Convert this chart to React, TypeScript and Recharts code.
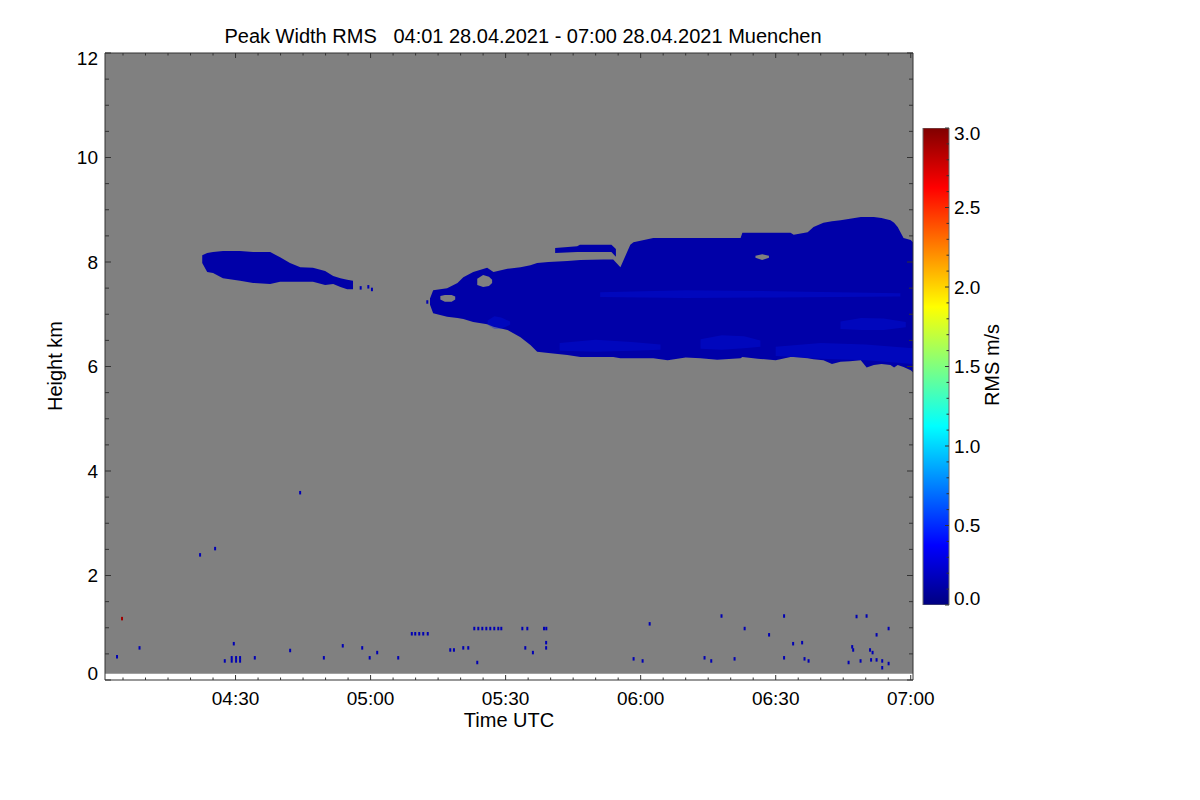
import React from 'react';
import { ComposedChart, Area, Scatter, Bar, XAxis, YAxis } from 'recharts';

const FONT = '"Liberation Sans", Arial, Helvetica, sans-serif';
const AXIS_COLOR = '#333333';
const PLOT_BG = '#808080';
const CLOUD_BLUE = '#0000a8';
const STREAK_BLUE = '#0018f0';

// time in minutes after 04:00 UTC, height in km
const X_DOMAIN = [1, 180.5];
const Y_DOMAIN = [0, 12];
const X_TICKS = [5, 10, 15, 20, 25, 30, 35, 40, 45, 50, 55, 60, 65, 70, 75, 80, 85, 90, 95, 100, 105, 110, 115, 120, 125, 130, 135, 140, 145, 150, 155, 160, 165, 170, 175, 180];
const X_MAJOR = [30, 60, 90, 120, 150, 180];
const X_LABELS = ['04:30', '05:00', '05:30', '06:00', '06:30', '07:00'];
const Y_TICKS = [0, 0.5, 1, 1.5, 2, 2.5, 3, 3.5, 4, 4.5, 5, 5.5, 6, 6.5, 7, 7.5, 8, 8.5, 9, 9.5, 10, 10.5, 11, 11.5, 12];
const Y_MAJOR = [0, 2, 4, 6, 8, 10, 12];
const Y_LABELS = ['0', '2', '4', '6', '8', '10', '12'];

// plot background (valid range gates)
const BG_T = [1, 180.5];
const BG_LOW = [0.12, 0.12];
const BG_HIGH = [12, 12];

// small cloud around 04:25 - 04:57
const CLOUD1_T = [22.6, 23.7, 25.0, 27.2, 31.0, 33.9, 37.7, 39.9, 42.1, 44.4, 47.2, 49.9, 51.7, 53.3, 54.8, 56.1];
const CLOUD1_LOW = [7.98, 7.81, 7.79, 7.69, 7.64, 7.60, 7.58, 7.62, 7.62, 7.62, 7.62, 7.56, 7.58, 7.52, 7.48, 7.48];
const CLOUD1_HIGH = [8.13, 8.17, 8.19, 8.21, 8.21, 8.19, 8.19, 8.09, 7.98, 7.90, 7.89, 7.83, 7.73, 7.69, 7.66, 7.64];

// main cloud 05:13 - 07:00
const MAIN_T = [73.2, 73.9, 77.0, 79.3, 80.6, 82.8, 85.9, 87.3, 90.4, 93.3, 95.5, 97.0, 99.5, 103.7, 106.6, 111.7, 113.9, 115.5, 117.7, 118.4, 122.8, 126.0, 130.0, 133.3, 137.0, 142.2, 142.6, 146.0, 150.0, 153.3, 154.0, 157.1, 158.4, 160.6, 162.5, 164.4, 166.5, 168.9, 170.2, 171.8, 173.5, 175.5, 176.3, 177.1, 178.4, 180.0, 180.5];
const MAIN_LOW = [7.18, 7.02, 6.95, 6.93, 6.91, 6.85, 6.81, 6.76, 6.70, 6.56, 6.41, 6.28, 6.26, 6.22, 6.18, 6.18, 6.18, 6.16, 6.16, 6.16, 6.16, 6.12, 6.17, 6.16, 6.13, 6.16, 6.18, 6.15, 6.12, 6.18, 6.18, 6.16, 6.14, 6.12, 6.05, 6.09, 6.10, 6.12, 5.98, 6.03, 6.05, 6.03, 5.98, 6.03, 5.99, 5.93, 5.89];
const MAIN_HIGH = [7.30, 7.46, 7.50, 7.60, 7.71, 7.81, 7.89, 7.81, 7.87, 7.90, 7.94, 7.98, 8.00, 8.02, 8.04, 8.05, 8.05, 7.90, 8.33, 8.38, 8.46, 8.46, 8.46, 8.46, 8.46, 8.46, 8.56, 8.56, 8.56, 8.56, 8.52, 8.57, 8.67, 8.75, 8.78, 8.80, 8.83, 8.86, 8.86, 8.86, 8.84, 8.80, 8.75, 8.67, 8.46, 8.42, 8.38];

// detached thin layer on top near 05:41 - 05:54
const STRIP_T = [101.0, 105.9, 106.5, 113.5, 114.5];
const STRIP_LOW = [8.17, 8.19, 8.19, 8.19, 8.10];
const STRIP_HIGH = [8.27, 8.30, 8.33, 8.33, 8.25];

// gaps inside the main cloud
const HOLE1_T = [75.5, 76.5, 78.0, 78.8];
const HOLE1_LOW = [7.28, 7.24, 7.24, 7.28];
const HOLE1_HIGH = [7.35, 7.37, 7.37, 7.34];
const HOLE2_T = [83.7, 85.0, 86.3, 87.0];
const HOLE2_LOW = [7.56, 7.52, 7.54, 7.60];
const HOLE2_HIGH = [7.68, 7.75, 7.72, 7.66];
const HOLE3_T = [145.5, 147.0, 148.5];
const HOLE3_LOW = [8.08, 8.04, 8.08];
const HOLE3_HIGH = [8.12, 8.15, 8.12];

// slightly higher RMS bands
const STREAK_A_T = [86.0, 87.5, 89.0, 91.0];
const STREAK_A_LOW = [6.80, 6.72, 6.72, 6.80];
const STREAK_A_HIGH = [6.88, 6.96, 6.94, 6.86];
const STREAK_B_T = [102.0, 110.0, 118.0, 124.4];
const STREAK_B_LOW = [6.30, 6.28, 6.30, 6.32];
const STREAK_B_HIGH = [6.45, 6.51, 6.47, 6.42];
const STREAK_C_T = [133.3, 138.0, 143.0, 146.6];
const STREAK_C_LOW = [6.34, 6.32, 6.35, 6.38];
const STREAK_C_HIGH = [6.52, 6.60, 6.58, 6.50];
const STREAK_D_T = [164.4, 169.0, 174.0, 178.9];
const STREAK_D_LOW = [6.72, 6.70, 6.70, 6.75];
const STREAK_D_HIGH = [6.86, 6.93, 6.92, 6.85];
const STREAK_E_T = [111.0, 130.0, 150.0, 177.7];
const STREAK_E_LOW = [7.33, 7.31, 7.32, 7.34];
const STREAK_E_HIGH = [7.42, 7.46, 7.44, 7.40];
const STREAK_F_T = [150.0, 160.0, 170.0, 180.5];
const STREAK_F_LOW = [6.20, 6.15, 6.12, 6.05];
const STREAK_F_HIGH = [6.38, 6.45, 6.42, 6.35];

// isolated pixels (ground clutter and cloud fragments)
const CLUTTER_T = [3.67, 8.67, 22.12, 25.46, 44.35, 29.61, 29.15, 30.12, 31.01, 29.15, 30.12, 31.01, 27.61, 34.28, 42.13, 49.62, 53.82, 58.14, 59.80, 61.47, 66.14, 69.16, 69.92, 70.81, 71.70, 72.70, 77.70, 78.52, 80.59, 81.70, 83.70, 83.04, 83.93, 84.82, 85.71, 86.59, 87.48, 88.37, 89.04, 93.71, 94.82, 98.53, 99.04, 94.37, 96.06, 99.0, 99.0, 118.43, 120.43, 122.0, 134.19, 135.68, 137.96, 140.86, 143.10, 148.53, 151.86, 151.86, 153.87, 155.87, 156.40, 157.30, 166.19, 166.99, 167.21, 167.96, 170.19, 168.85, 170.96, 171.52, 171.19, 172.41, 172.41, 173.66, 173.66, 175.08, 175.08, 57.8, 59.5, 60.3, 72.6];
const CLUTTER_H = [0.44, 0.61, 2.39, 2.51, 3.58, 0.69, 0.42, 0.42, 0.42, 0.36, 0.36, 0.36, 0.36, 0.42, 0.56, 0.42, 0.65, 0.61, 0.42, 0.52, 0.42, 0.88, 0.88, 0.88, 0.88, 0.88, 0.57, 0.57, 0.61, 0.61, 0.33, 0.98, 0.98, 0.98, 0.98, 0.98, 0.98, 0.98, 0.98, 0.98, 0.98, 0.98, 0.98, 0.61, 0.52, 0.71, 0.61, 0.40, 0.36, 1.07, 0.42, 0.36, 1.22, 0.40, 0.98, 0.86, 1.22, 0.42, 0.69, 0.71, 0.40, 0.36, 0.33, 0.63, 0.57, 1.21, 1.22, 0.36, 0.57, 0.52, 0.38, 0.86, 0.38, 0.36, 0.23, 0.98, 0.31, 7.50, 7.52, 7.47, 7.23];
const HOT_T = [4.78];
const HOT_H = [1.17];

// colour bar
const CB_DOMAIN = [0, 3];
const CB_VALUE = [3];
const CB_TICKS = [0, 0.1, 0.2, 0.3, 0.4, 0.5, 0.6, 0.7, 0.8, 0.9, 1.0, 1.1, 1.2, 1.3, 1.4, 1.5, 1.6, 1.7, 1.8, 1.9, 2.0, 2.1, 2.2, 2.3, 2.4, 2.5, 2.6, 2.7, 2.8, 2.9, 3.0];
const CB_MAJOR = [0, 0.5, 1.0, 1.5, 2.0, 2.5, 3.0];
const CB_LABELS = ['0.0', '0.5', '1.0', '1.5', '2.0', '2.5', '3.0'];

const toRange = (t: number[], lo: number[], hi: number[]) => t.map((v, i) => ({ t: v, r: [lo[i], hi[i]] }));
const toPoints = (t: number[], h: number[]) => t.map((v, i) => ({ t: v, h: h[i] }));

const BG_DATA = toRange(BG_T, BG_LOW, BG_HIGH);
const CLOUD1_DATA = toRange(CLOUD1_T, CLOUD1_LOW, CLOUD1_HIGH);
const MAIN_DATA = toRange(MAIN_T, MAIN_LOW, MAIN_HIGH);
const STRIP_DATA = toRange(STRIP_T, STRIP_LOW, STRIP_HIGH);
const HOLES = [toRange(HOLE1_T, HOLE1_LOW, HOLE1_HIGH), toRange(HOLE2_T, HOLE2_LOW, HOLE2_HIGH), toRange(HOLE3_T, HOLE3_LOW, HOLE3_HIGH)];
const STREAKS = [
  toRange(STREAK_A_T, STREAK_A_LOW, STREAK_A_HIGH),
  toRange(STREAK_B_T, STREAK_B_LOW, STREAK_B_HIGH),
  toRange(STREAK_C_T, STREAK_C_LOW, STREAK_C_HIGH),
  toRange(STREAK_D_T, STREAK_D_LOW, STREAK_D_HIGH),
  toRange(STREAK_E_T, STREAK_E_LOW, STREAK_E_HIGH),
  toRange(STREAK_F_T, STREAK_F_LOW, STREAK_F_HIGH),
];
const CLUTTER_DATA = toPoints(CLUTTER_T, CLUTTER_H);
const HOT_DATA = toPoints(HOT_T, HOT_H);
const CB_DATA = CB_VALUE.map((v) => ({ k: 'rms', v }));

const idxOf = (arr: number[], v: number) => arr.findIndex((a) => Math.abs(a - v) < 1e-6);

const textStyle = { fontFamily: FONT, fontSize: 19, fill: '#000' };

const BottomTick = (p: any) => {
  const v = p.payload.value;
  const i = idxOf(X_MAJOR, v);
  return (
    <g>
      <line x1={p.x} x2={p.x} y1={p.y} y2={p.y - (i >= 0 ? 5 : 2.5)} stroke={AXIS_COLOR} />
      {i >= 0 && (
        <text x={p.x} y={p.y + 18} dy="0.36em" textAnchor="middle" style={textStyle}>
          {X_LABELS[i]}
        </text>
      )}
    </g>
  );
};

const TopTick = (p: any) => {
  const i = idxOf(X_MAJOR, p.payload.value);
  return <line x1={p.x} x2={p.x} y1={p.y} y2={p.y + (i >= 0 ? 5 : 2.5)} stroke={AXIS_COLOR} />;
};

const LeftTick = (p: any) => {
  const v = p.payload.value;
  const i = idxOf(Y_MAJOR, v);
  const shift = i === Y_MAJOR.length - 1 ? 5 : i === 0 ? -7 : 0;
  return (
    <g>
      <line x1={p.x} x2={p.x + (i >= 0 ? 6 : 4)} y1={p.y} y2={p.y} stroke={AXIS_COLOR} />
      {i >= 0 && (
        <text x={p.x - 7} y={p.y + shift} dy="0.36em" textAnchor="end" style={textStyle}>
          {Y_LABELS[i]}
        </text>
      )}
    </g>
  );
};

const RightTick = (p: any) => {
  const i = idxOf(Y_MAJOR, p.payload.value);
  return <line x1={p.x} x2={p.x - (i >= 0 ? 6 : 4)} y1={p.y} y2={p.y} stroke={AXIS_COLOR} />;
};

const ColorbarTick = (p: any) => {
  const v = p.payload.value;
  const i = idxOf(CB_MAJOR, v);
  const shift = i === CB_MAJOR.length - 1 ? 5 : i === 0 ? -7 : 0;
  return (
    <g>
      <line x1={p.x} x2={p.x - (i >= 0 ? 4 : 2.5)} y1={p.y} y2={p.y} stroke={AXIS_COLOR} />
      {i >= 0 && (
        <text x={p.x + 5} y={p.y + shift} dy="0.36em" textAnchor="start" style={textStyle}>
          {CB_LABELS[i]}
        </text>
      )}
    </g>
  );
};

const Pixel = (p: any) => <rect x={p.cx - 1} y={p.cy - 2} width={2} height={3.5} fill={p.fill} />;

export default function App() {
  return (
    <div style={{ position: 'absolute', left: 0, top: 0, width: 1200, height: 800, background: '#fff' }}>
      <div style={{ position: 'absolute', left: 0, top: 0 }}>
        <ComposedChart width={1200} height={800} margin={{ top: 52, left: 104, right: 286, bottom: 119 }}>
          <Area data={BG_DATA} dataKey="r" type="linear" stroke="none" fill={PLOT_BG} fillOpacity={1} isAnimationActive={false} dot={false} activeDot={false} />
          <Area data={CLOUD1_DATA} dataKey="r" type="linear" stroke="none" fill={CLOUD_BLUE} fillOpacity={1} isAnimationActive={false} dot={false} activeDot={false} />
          <Area data={MAIN_DATA} dataKey="r" type="linear" stroke="none" fill={CLOUD_BLUE} fillOpacity={1} isAnimationActive={false} dot={false} activeDot={false} />
          <Area data={STRIP_DATA} dataKey="r" type="linear" stroke="none" fill={CLOUD_BLUE} fillOpacity={1} isAnimationActive={false} dot={false} activeDot={false} />
          {STREAKS.map((d, i) => (
            <Area key={'s' + i} data={d} dataKey="r" type="linear" stroke="none" fill={STREAK_BLUE} fillOpacity={0.3} isAnimationActive={false} dot={false} activeDot={false} />
          ))}
          {HOLES.map((d, i) => (
            <Area key={'h' + i} data={d} dataKey="r" type="linear" stroke="none" fill={PLOT_BG} fillOpacity={1} isAnimationActive={false} dot={false} activeDot={false} />
          ))}
          <Scatter data={CLUTTER_DATA} dataKey="h" fill="#0000b4" shape={Pixel} isAnimationActive={false} />
          <Scatter data={HOT_DATA} dataKey="h" fill="#a00000" shape={Pixel} isAnimationActive={false} />
          <XAxis type="number" dataKey="t" domain={X_DOMAIN} allowDataOverflow ticks={X_TICKS} interval={0} height={1} tickSize={0} tickMargin={0} tickLine={false} axisLine={{ stroke: AXIS_COLOR }} tick={(p: any) => <BottomTick {...p} />} />
          <XAxis xAxisId="top" orientation="top" type="number" dataKey="t" domain={X_DOMAIN} allowDataOverflow ticks={X_TICKS} interval={0} height={1} tickSize={0} tickMargin={0} tickLine={false} axisLine={{ stroke: AXIS_COLOR }} tick={(p: any) => <TopTick {...p} />} />
          <YAxis type="number" dataKey="h" domain={Y_DOMAIN} allowDataOverflow ticks={Y_TICKS} interval={0} width={1} tickSize={0} tickMargin={0} tickLine={false} axisLine={{ stroke: AXIS_COLOR }} tick={(p: any) => <LeftTick {...p} />} />
          <YAxis yAxisId="right" orientation="right" type="number" domain={Y_DOMAIN} allowDataOverflow ticks={Y_TICKS} interval={0} width={1} tickSize={0} tickMargin={0} tickLine={false} axisLine={{ stroke: AXIS_COLOR }} tick={(p: any) => <RightTick {...p} />} />
        </ComposedChart>
      </div>
      <div style={{ position: 'absolute', left: 0, top: 0 }}>
        <ComposedChart width={1200} height={800} data={CB_DATA} margin={{ top: 128, left: 923, right: 250, bottom: 195 }} barCategoryGap={0}>
          <defs>
            <linearGradient id="jetGrad" x1="0" y1="1" x2="0" y2="0">
              <stop offset="0" stopColor="#000080" />
              <stop offset="0.125" stopColor="#0000ff" />
              <stop offset="0.375" stopColor="#00ffff" />
              <stop offset="0.625" stopColor="#ffff00" />
              <stop offset="0.875" stopColor="#ff0000" />
              <stop offset="1" stopColor="#800000" />
            </linearGradient>
          </defs>
          <XAxis dataKey="k" type="category" hide />
          <YAxis orientation="right" type="number" domain={CB_DOMAIN} allowDataOverflow ticks={CB_TICKS} interval={0} width={1} tickSize={0} tickMargin={0} tickLine={false} axisLine={false} tick={(p: any) => <ColorbarTick {...p} />} />
          <Bar dataKey="v" fill="url(#jetGrad)" stroke="#6a6a6a" strokeWidth={1} isAnimationActive={false} />
        </ComposedChart>
      </div>
      <svg width={1200} height={800} style={{ position: 'absolute', left: 0, top: 0, pointerEvents: 'none' }}>
        <text x={523} y={43} textAnchor="middle" style={{ fontFamily: FONT, fontSize: 20, fill: '#000', whiteSpace: 'pre' }}>
          {'Peak Width RMS   04:01 28.04.2021 - 07:00 28.04.2021 Muenchen'}
        </text>
        <text x={509} y={727} textAnchor="middle" style={{ fontFamily: FONT, fontSize: 20, fill: '#000' }}>
          Time UTC
        </text>
        <text x={62} y={366} textAnchor="middle" transform="rotate(-90 62 366)" style={{ fontFamily: FONT, fontSize: 20, fill: '#000' }}>
          Height km
        </text>
        <text x={999} y={365} textAnchor="middle" transform="rotate(-90 999 365)" style={{ fontFamily: FONT, fontSize: 20, fill: '#000' }}>
          RMS m/s
        </text>
      </svg>
    </div>
  );
}
